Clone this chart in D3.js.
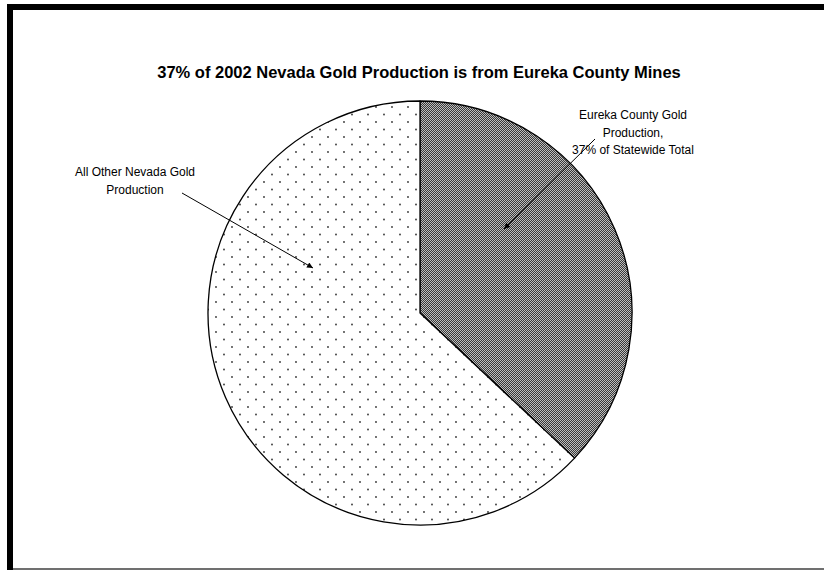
<!DOCTYPE html>
<html>
<head>
<meta charset="utf-8">
<script src="https://cdn.jsdelivr.net/npm/d3@7"></script>
<style>
  body { margin: 0; background: #fff; }
  svg { display: block; font-family: "Liberation Sans", Arial, sans-serif; }
</style>
</head>
<body>
<script>
// chart data
const categories = ["Eureka County Gold Production", "All Other Nevada Gold Production"];
const shares = [37, 63];
const labelLines = [
    ["Eureka County Gold", "Production,", "37% of Statewide Total"],
    ["All Other Nevada Gold", "Production"]
];
const title = "37% of 2002 Nevada Gold Production is from Eureka County Mines";

const width = 824, height = 570;
const cx = 420, cy = 313, radius = 212;

const svg = d3.select("body").append("svg")
    .attr("width", width)
    .attr("height", height);

// fill patterns
const defs = svg.append("defs");

const checker = defs.append("pattern")
    .attr("id", "checker")
    .attr("patternUnits", "userSpaceOnUse")
    .attr("width", 2).attr("height", 2);
checker.append("rect").attr("width", 2).attr("height", 2).attr("fill", "#bdbdbd");
checker.append("rect").attr("width", 1).attr("height", 1).attr("fill", "#383838");
checker.append("rect").attr("x", 1).attr("y", 1).attr("width", 1).attr("height", 1).attr("fill", "#383838");

const dots = defs.append("pattern")
    .attr("id", "dots")
    .attr("patternUnits", "userSpaceOnUse")
    .attr("width", 16).attr("height", 15);
dots.append("rect").attr("width", 16).attr("height", 15).attr("fill", "#fff");
dots.append("circle").attr("cx", 4).attr("cy", 4).attr("r", 0.9).attr("fill", "#333");
dots.append("circle").attr("cx", 12).attr("cy", 11.5).attr("r", 0.9).attr("fill", "#333");

// frame
svg.append("rect").attr("x", 7).attr("y", 4).attr("width", width - 7).attr("height", 6).attr("fill", "#000");
svg.append("rect").attr("x", 7).attr("y", 4).attr("width", 6).attr("height", height - 4).attr("fill", "#000");
svg.append("rect").attr("x", 13).attr("y", 568).attr("width", width - 13).attr("height", 2).attr("fill", "#707070");

// title
svg.append("text")
    .attr("x", 419)
    .attr("y", 78)
    .attr("text-anchor", "middle")
    .attr("font-weight", "bold")
    .attr("font-size", "16.5px")
    .text(title);

// pie
const pie = d3.pie().sort(null).value(d => d);
const arc = d3.arc().innerRadius(0).outerRadius(radius);
const fills = ["url(#checker)", "url(#dots)"];

const g = svg.append("g").attr("transform", "translate(" + cx + "," + cy + ")");

g.selectAll("path.slice")
    .data(pie(shares))
    .enter().append("path")
    .attr("class", "slice")
    .attr("d", arc)
    .attr("fill", (d, i) => fills[i])
    .attr("stroke", "#000")
    .attr("stroke-width", 1.3)
    .attr("stroke-linejoin", "round");

// arrow marker
defs.append("marker")
    .attr("id", "arrow")
    .attr("viewBox", "0 0 10 10")
    .attr("refX", 10).attr("refY", 5)
    .attr("markerWidth", 9).attr("markerHeight", 6)
    .attr("markerUnits", "userSpaceOnUse")
    .attr("orient", "auto")
    .append("path")
    .attr("d", "M0,0 L10,5 L0,10 z")
    .attr("fill", "#000");

// labels with leader arrows
const labelPos = [
    { x: 633, y: 119, from: [595, 139], to: [504, 229] },
    { x: 135, y: 176, from: [182, 193], to: [313, 268] }
];

labelLines.forEach((lines, i) => {
    const p = labelPos[i];
    const t = svg.append("text")
        .attr("text-anchor", "middle")
        .attr("font-size", "12px")
        .attr("fill", "#000");
    lines.forEach((line, j) => {
        t.append("tspan")
            .attr("x", p.x)
            .attr("y", p.y + j * 17.5)
            .text(line);
    });
    svg.append("line")
        .attr("x1", p.from[0]).attr("y1", p.from[1])
        .attr("x2", p.to[0]).attr("y2", p.to[1])
        .attr("stroke", "#000")
        .attr("stroke-width", 1)
        .attr("marker-end", "url(#arrow)");
});
</script>
</body>
</html>
